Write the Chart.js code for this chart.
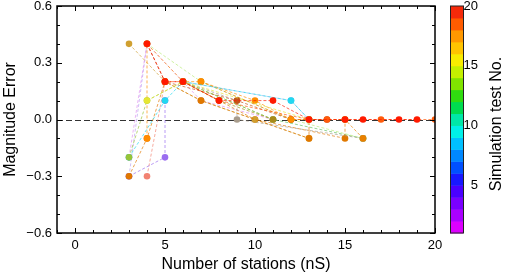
<!DOCTYPE html>
<html>
<head>
<meta charset="utf-8">
<script src="https://cdn.jsdelivr.net/npm/chart.js@4.4.1/dist/chart.umd.min.js"></script>
<style>
  html, body { margin: 0; padding: 0; background: #fff; }
  #wrap { width: 505px; height: 276px; }
</style>
</head>
<body>
<div id="wrap"><canvas id="chart"></canvas></div>
<script>
// magnitude error vs number of stations, one dashed track per simulation test
const redX        = [4, 5, 6, 8, 11, 13, 15, 16, 18, 19];
const redY        = [0.4, 0.2, 0.2, 0.1, 0.1, 0, 0, 0, 0, 0];
const orangeRedX  = [5, 6, 8, 13, 14, 17, 20];
const orangeRedY  = [0.2, 0.2, 0.1, 0, 0, 0, 0];
const yellowX     = [4, 6, 13];
const yellowY     = [0.1, 0.2, 0];
const oliveX      = [6, 8, 11];
const oliveY      = [0.2, 0.1, 0];
const yelGreenX   = [3, 4, 6, 11];
const yelGreenY   = [-0.2, 0.1, 0.2, 0];
const cyanX       = [3, 5, 6, 12, 13];
const cyanY       = [-0.2, 0.1, 0.2, 0.1, 0];
const orangeX     = [4, 4, 6, 7, 10, 12, 13];
const orangeY     = [-0.1, 0.4, 0.2, 0.2, 0.1, 0, 0];
const dkOrangeAX  = [3, 4, 5, 7, 13, 13];
const dkOrangeAY  = [-0.3, -0.1, 0.2, 0.1, -0.1, 0];
const purpleX     = [3, 5, 5];
const purpleY     = [-0.3, -0.2, 0.1];
const brownX      = [4, 5, 9, 12, 14];
const brownY      = [0.4, 0.2, 0.1, 0, 0];
const tanX        = [3, 5, 7, 10, 13];
const tanY        = [0.4, 0.2, 0.1, 0, -0.1];
const dkOrangeCX  = [7, 12, 15, 16];
const dkOrangeCY  = [0.2, 0, 0, -0.1];
const grayX       = [6, 9, 9, 16];
const grayY       = [0.2, 0.1, 0, -0.1];
const dkOrangeBX  = [6, 10, 15, 15];
const dkOrangeBY  = [0.2, 0, -0.1, 0];
const salmonX     = [4, 5];
const salmonY     = [-0.3, 0.2];
const magentaX    = [3, 4, 7, 11];
const magentaY    = [-0.2, 0.4, 0.1, 0];
const ltGreenX    = [4, 7, 12, 16];
const ltGreenY    = [0.4, 0.2, 0, -0.1];
const greenX      = [6, 11, 16];
const greenY      = [0.2, 0, -0.1];
const ltBlueX     = [6, 12, 13];
const ltBlueY     = [0.2, 0.1, 0];
const lavenderX   = [3, 4];
const lavenderY   = [-0.3, 0.4];

// colour bar: test number 1..20, one band per step (bottom to top)
const CB_MIN = 1;
const CB_MAX = 20;
const CB_TICKS = [5, 10, 15, 20];
const CB_COLORS = [
  '#dc00ff', '#aa00ff', '#7a00ff', '#4a00ff', '#1818ff', '#0050ff', '#0088ff',
  '#00c0ff', '#00f0e8', '#00e8a8', '#00dc50', '#30dc10', '#80e400', '#c4f000',
  '#f8ec00', '#ffc400', '#ff9800', '#ff5c00', '#f52a0a'
];

// series in drawing order, first one ends up on top
const SERIES = [
  [redX, redY, '#ff1a00'],
  [orangeRedX, orangeRedY, '#ff5a0a'],
  [yellowX, yellowY, '#e6e632'],
  [oliveX, oliveY, '#a88a18'],
  [yelGreenX, yelGreenY, '#98c438'],
  [cyanX, cyanY, '#22d8f0'],
  [orangeX, orangeY, '#ff8c00'],
  [dkOrangeAX, dkOrangeAY, '#e07800'],
  [purpleX, purpleY, '#9a6cf0'],
  [brownX, brownY, '#c4521a'],
  [tanX, tanY, '#d0a030'],
  [dkOrangeCX, dkOrangeCY, '#e88000'],
  [grayX, grayY, '#a89c8c'],
  [dkOrangeBX, dkOrangeBY, '#e07800'],
  [salmonX, salmonY, '#f28272'],
  [magentaX, magentaY, '#e090f0'],
  [ltGreenX, ltGreenY, '#b8ec78'],
  [greenX, greenY, '#60c060'],
  [ltBlueX, ltBlueY, '#80b8f0'],
  [lavenderX, lavenderY, '#b8a0f0'],
];

function withAlpha(hex, a) {
  const n = parseInt(hex.slice(1), 16);
  return `rgba(${(n >> 16) & 255},${(n >> 8) & 255},${n & 255},${a})`;
}

const datasets = SERIES.map(([xs, ys, col]) => ({
  data: xs.map((x, i) => ({ x, y: ys[i] })),
  showLine: true,
  borderColor: withAlpha(col, 0.75),
  borderWidth: 0.9,
  borderDash: [3, 2],
  pointRadius: 3.3,
  pointBorderWidth: 0,
  pointBackgroundColor: col,
  pointBorderColor: col,
}));

Chart.defaults.font.family = "'Liberation Sans', Arial, sans-serif";
Chart.defaults.color = '#000';

// no extra room reserved for half-labels at the axis ends
function noPad(s) {
  s.paddingTop = 0; s.paddingBottom = 0; s.paddingLeft = 0; s.paddingRight = 0;
}

const frame = {
  id: 'frame',
  beforeDatasetsDraw(chart) {
    const { ctx, chartArea: a, scales: { y } } = chart;
    const py = Math.round(y.getPixelForValue(0)) + 0.5;
    ctx.save();
    ctx.strokeStyle = '#333';
    ctx.lineWidth = 1;
    ctx.setLineDash([6, 3]);
    ctx.beginPath();
    ctx.moveTo(a.left, py);
    ctx.lineTo(a.right, py);
    ctx.stroke();
    ctx.restore();
  },
  afterDraw(chart) {
    const { ctx, chartArea: a, scales: { x, y, cb } } = chart;
    ctx.save();
    ctx.strokeStyle = '#000';
    ctx.lineWidth = 1;
    ctx.beginPath();
    for (let v = -1; v <= 20; v++) {
      const px = Math.round(x.getPixelForValue(v)) + 0.5;
      const len = v % 5 === 0 ? 5 : 3;
      ctx.moveTo(px, a.bottom); ctx.lineTo(px, a.bottom - len);
      ctx.moveTo(px, a.top); ctx.lineTo(px, a.top + len);
    }
    for (let k = -6; k <= 6; k++) {
      const py = Math.round(y.getPixelForValue(k / 10)) + 0.5;
      const len = k % 3 === 0 ? 5 : 3;
      ctx.moveTo(a.left, py); ctx.lineTo(a.left + len, py);
      ctx.moveTo(a.right, py); ctx.lineTo(a.right - len, py);
    }
    ctx.stroke();
    ctx.lineWidth = 1.5;
    ctx.strokeRect(a.left, a.top, a.right - a.left, a.bottom - a.top);

    // colour bar
    const bx = cb.left + 15, bw = 13;
    CB_COLORS.forEach((c, i) => {
      const y0 = cb.getPixelForValue(CB_MIN + i);
      const y1 = cb.getPixelForValue(CB_MIN + i + 1);
      ctx.fillStyle = c;
      ctx.fillRect(bx, y1, bw, y0 - y1 + 0.5);
    });
    ctx.lineWidth = 1;
    ctx.strokeStyle = '#222';
    const top = cb.getPixelForValue(CB_MAX), bot = cb.getPixelForValue(CB_MIN);
    ctx.strokeRect(bx + 0.5, top, bw, bot - top);

    ctx.translate(497, 124);
    ctx.rotate(-Math.PI / 2);
    ctx.fillStyle = '#000';
    ctx.font = "16px 'Liberation Sans', Arial, sans-serif";
    ctx.textAlign = 'center';
    ctx.textBaseline = 'middle';
    ctx.fillText('Simulation test No.', 0, 0);
    ctx.restore();
  }
};

new Chart(document.getElementById('chart'), {
  type: 'scatter',
  data: { datasets },
  options: {
    responsive: true,
    maintainAspectRatio: false,
    animation: false,
    layout: { padding: { top: 6, left: 0, right: 27, bottom: 0 } },
    plugins: { legend: { display: false }, tooltip: { enabled: false } },
    scales: {
      x: {
        type: 'linear',
        min: -1, max: 20,
        grid: { display: false, drawTicks: false },
        border: { display: false },
        ticks: {
          stepSize: 1, autoSkip: false, maxRotation: 0, padding: 5,
          font: { size: 13 },
          callback: v => (v % 5 === 0 ? String(v) : '')
        },
        title: { display: true, text: 'Number of stations (nS)', font: { size: 16 }, padding: { top: 0, bottom: 2 } },
        afterFit(s) { s.height = 43; noPad(s); }
      },
      y: {
        type: 'linear',
        min: -0.6, max: 0.6,
        grid: { display: false, drawTicks: false },
        border: { display: false },
        ticks: {
          stepSize: 0.1, autoSkip: false, padding: 5,
          font: { size: 13 },
          callback: v => {
            const k = Math.round(v * 10);
            return k % 3 === 0 ? (k / 10).toFixed(1).replace('-', '\u2212') : '';
          }
        },
        title: { display: true, text: 'Magnitude Error', font: { size: 16 }, padding: { top: 1, bottom: 0 } },
        afterFit(s) { s.width = 57; noPad(s); }
      },
      cb: {
        type: 'linear',
        position: 'right',
        min: CB_MIN, max: CB_MAX,
        grid: { display: false, drawTicks: false },
        border: { display: false },
        ticks: { padding: 0, crossAlign: 'far', font: { size: 13 } },
        afterBuildTicks(s) { s.ticks = CB_TICKS.map(v => ({ value: v })); },
        afterFit(s) { s.width = 43; noPad(s); }
      }
    }
  },
  plugins: [frame]
});
</script>
</body>
</html>
